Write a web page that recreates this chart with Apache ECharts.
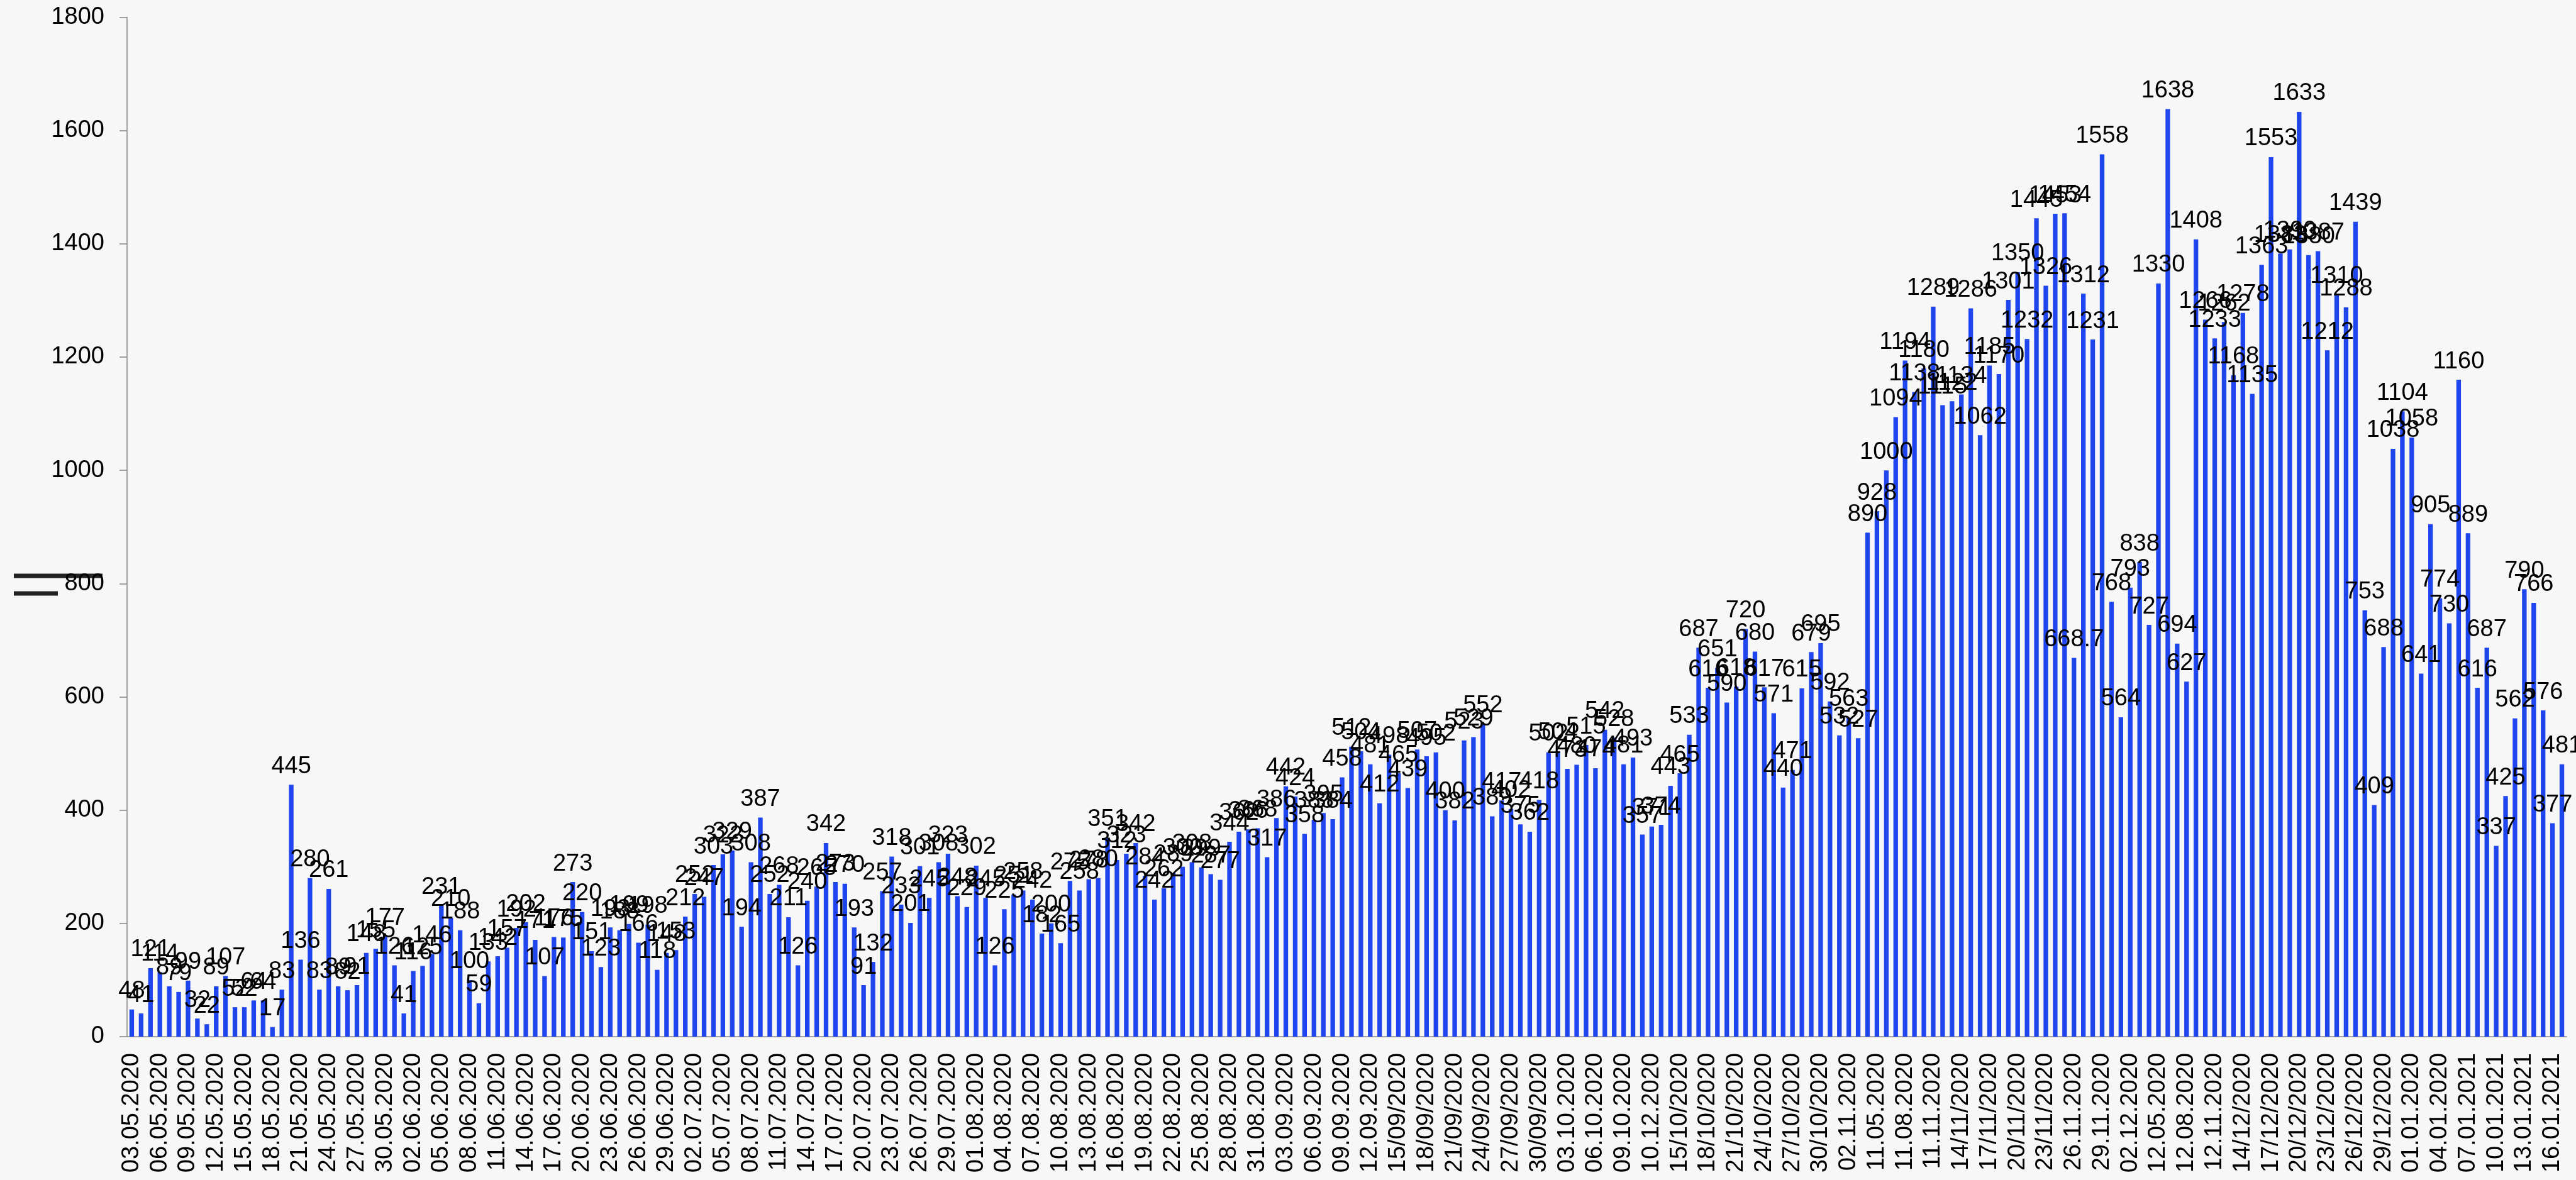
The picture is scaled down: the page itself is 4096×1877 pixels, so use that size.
<!DOCTYPE html>
<html style="height: 100%">
<head>
    <meta charset="utf-8">
    <title>Daily cases</title>
</head>
<body style="height: 100%; margin: 0; background: #f7f7f7;">
    <div id="container" style="width: 4096px; height: 1877px;"></div>
    <script src="https://cdn.jsdelivr.net/npm/echarts@6/dist/echarts.min.js"></script>
    <script type="text/javascript">
        // labels shown under the axis (every 3rd day), spelled as in the source
        var tickLabels = [
            '03.05.2020', '06.05.2020', '09.05.2020', '12.05.2020', '15.05.2020', '18.05.2020',
            '21.05.2020', '24.05.2020', '27.05.2020', '30.05.2020', '02.06.2020', '05.06.2020',
            '08.06.2020', '11.06.2020', '14.06.2020', '17.06.2020', '20.06.2020', '23.06.2020',
            '26.06.2020', '29.06.2020', '02.07.2020', '05.07.2020', '08.07.2020', '11.07.2020',
            '14.07.2020', '17.07.2020', '20.07.2020', '23.07.2020', '26.07.2020', '29.07.2020',
            '01.08.2020', '04.08.2020', '07.08.2020', '10.08.2020', '13.08.2020', '16.08.2020',
            '19.08.2020', '22.08.2020', '25.08.2020', '28.08.2020', '31.08.2020', '03.09.2020',
            '06.09.2020', '09.09.2020', '12.09.2020', '15/09/2020', '18/09/2020', '21/09/2020',
            '24/09/2020', '27/09/2020', '30/09/2020', '03.10.2020', '06.10.2020', '09.10.2020',
            '10.12.2020', '15/10/2020', '18/10/2020', '21/10/2020', '24/10/2020', '27/10/2020',
            '30/10/2020', '02.11.2020', '11.05.2020', '11.08.2020', '11.11.2020', '14/11/2020',
            '17/11/2020', '20/11/2020', '23/11/2020', '26.11.2020', '29.11.2020', '02.12.2020',
            '12.05.2020', '12.08.2020', '12.11.2020', '14/12/2020', '17/12/2020', '20/12/2020',
            '23/12/2020', '26/12/2020', '29/12/2020', '01.01.2020', '04.01.2020', '07.01.2021',
            '10.01.2021', '13.01.2021', '16.01.2021'
        ];

        // one value per day, 03.05.2020 .. 17.01.2021
        var values = [
            48, 41, 121, 114, 89, 79, 99, 32, 22, 89,
            107, 52, 52, 64, 64, 17, 83, 445, 136, 280,
            83, 261, 89, 82, 91, 148, 155, 177, 126, 41,
            116, 125, 146, 231, 210, 188, 100, 59, 133, 142,
            157, 192, 202, 171, 107, 176, 175, 273, 220, 151,
            123, 193, 188, 199, 166, 198, 118, 148, 153, 212,
            252, 247, 303, 322, 329, 194, 308, 387, 252, 268,
            211, 126, 240, 265, 342, 273, 270, 193, 91, 132,
            257, 318, 233, 201, 301, 245, 308, 323, 248, 229,
            302, 245, 126, 225, 251, 258, 242, 182, 200, 165,
            275, 258, 278, 280, 351, 312, 323, 342, 284, 242,
            262, 289, 300, 308, 299, 287, 277, 344, 362, 366,
            368, 317, 386, 442, 424, 358, 383, 395, 384, 458,
            512, 504, 481, 412, 498, 465, 439, 507, 495, 502,
            400, 382, 523, 529, 552, 389, 417, 402, 375, 362,
            418, 502, 504, 473, 480, 515, 474, 542, 528, 481,
            493, 357, 371, 374, 443, 465, 533, 687, 616, 651,
            590, 618, 720, 680, 617, 571, 440, 471, 615, 679,
            695, 592, 532, 563, 527, 890, 928, 1000, 1094, 1194,
            1138, 1180, 1289, 1115, 1122, 1134, 1286, 1062, 1185, 1170,
            1301, 1350, 1232, 1445, 1326, 1453, 1454, 668.7, 1312, 1231,
            1558, 768, 564, 793, 838, 727, 1330, 1638, 694, 627,
            1408, 1266, 1233, 1262, 1168, 1278, 1135, 1363, 1553, 1383,
            1390, 1633, 1380, 1387, 1212, 1310, 1288, 1439, 753, 409,
            688, 1038, 1104, 1058, 641, 905, 774, 730, 1160, 889,
            616, 687, 337, 425, 562, 790, 766, 576, 377, 481
        ];

        function pad(n) { return (n < 10 ? '0' : '') + n; }

        // full category list: shown labels on every 3rd day, plain dates between
        var categories = [];
        for (var i = 0; i < values.length; i++) {
            if (i % 3 === 0 && tickLabels[i / 3]) {
                categories.push(tickLabels[i / 3]);
            } else {
                var d = new Date(2020, 4, 3 + i);
                categories.push(pad(d.getDate()) + '.' + pad(d.getMonth() + 1) + '.' + d.getFullYear());
            }
        }

        var font = 'Liberation Sans, Arial, sans-serif';
        var dom = document.getElementById('container');
        var myChart = echarts.init(dom);
        var option = {
            backgroundColor: '#f7f7f7',
            animation: false,
            grid: { left: 202, right: 15, top: 27.5, bottom: 228 },
            xAxis: {
                type: 'category',
                data: categories,
                axisLine: { lineStyle: { color: '#8c8c8c', width: 1.6 } },
                axisTick: { interval: 0, length: 12, lineStyle: { color: '#8c8c8c', width: 1.6 } },
                axisLabel: {
                    interval: 2,
                    rotate: 90,
                    margin: 26,
                    color: '#000',
                    fontSize: 38,
                    fontFamily: font
                },
                splitLine: { show: false }
            },
            yAxis: {
                type: 'value',
                min: 0,
                max: 1800,
                interval: 200,
                axisLine: { show: true, lineStyle: { color: '#8c8c8c', width: 1.6 } },
                axisTick: { show: true, length: 12, lineStyle: { color: '#8c8c8c', width: 1.6 } },
                axisLabel: {
                    margin: 36,
                    color: '#000',
                    fontSize: 38,
                    fontFamily: font,
                    formatter: function (v) { return String(v); }
                },
                splitLine: { show: false }
            },
            // the two dark strokes left of the y axis
            graphic: [
                { type: 'line', shape: { x1: 22, y1: 916, x2: 163, y2: 916 }, style: { stroke: '#222', lineWidth: 6.8 } },
                { type: 'line', shape: { x1: 22, y1: 944, x2: 92, y2: 944 }, style: { stroke: '#222', lineWidth: 6.8 } }
            ],
            series: [{
                type: 'bar',
                data: values,
                barWidth: '49%',
                itemStyle: { color: '#1f45ef' },
                label: {
                    show: true,
                    position: 'top',
                    distance: 10,
                    color: '#000',
                    fontSize: 38,
                    fontFamily: font
                }
            }]
        };
        myChart.setOption(option);
    </script>
</body>
</html>
